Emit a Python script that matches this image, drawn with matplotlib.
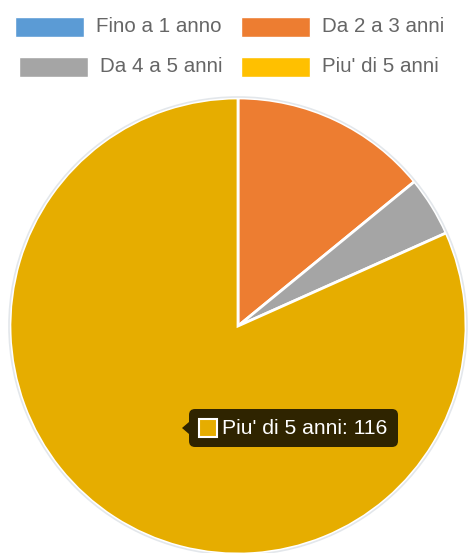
import matplotlib.pyplot as plt
from matplotlib.patches import Rectangle, FancyBboxPatch, Polygon, Circle

plt.rcParams["font.family"] = ["Liberation Sans", "DejaVu Sans"]

LABELS = ["Fino a 1 anno", "Da 2 a 3 anni", "Da 4 a 5 anni", "Piu' di 5 anni"]
VALUES = [0, 20, 6, 116]
COLORS = ["#5b9bd5", "#ed7d31", "#a5a5a5", "#ffc000"]
HOVER_INDEX = 3
HOVER_COLOR = "#e6ad00"

W, H = 472, 553

fig = plt.figure(figsize=(W / 100, H / 100), dpi=100)
ax = fig.add_axes([0, 0, 1, 1])

# pie, center/radius in pixels (y up)
cx, cy, r = 238, H - 326, 228
wedge_colors = [HOVER_COLOR if i == HOVER_INDEX else c for i, c in enumerate(COLORS)]
ax.pie(
    VALUES,
    colors=wedge_colors,
    startangle=90,
    counterclock=False,
    center=(cx, cy),
    radius=r,
    wedgeprops={"edgecolor": "white", "linewidth": 2},
    frame=True,
)
ax.set_xlim(0, W)
ax.set_ylim(0, H)
ax.set_aspect("equal")
ax.axis("off")
ax.add_patch(Circle((cx, cy), r + 1, fill=False, edgecolor="#e3e7eb", linewidth=1.2, zorder=3))

# legend, two columns
legend_pos = [(15, 27), (241, 27), (19, 67), (241, 67)]
for (x, y), label, color in zip(legend_pos, LABELS, COLORS):
    ax.add_patch(Rectangle((x, H - y - 10), 69, 20, facecolor=color, edgecolor="white",
                           linewidth=1, zorder=4))
    ax.text(x + 81, H - y, label, fontsize=14.8, color="#666666", va="center", ha="left", zorder=4)

# tooltip for hovered slice
tx, ty, tw, th = 189, H - 447, 209, 38
ax.add_patch(FancyBboxPatch((tx + 4, ty + 4), tw - 8, th - 8,
                            boxstyle="round,pad=4,rounding_size=6",
                            facecolor="#2f2400", edgecolor="none", zorder=5))
ax.add_patch(Polygon([(tx, ty + th / 2 + 6), (tx - 7, ty + th / 2), (tx, ty + th / 2 - 6)],
                     closed=True, facecolor="#2f2400", edgecolor="none", zorder=5))
ax.add_patch(Rectangle((tx + 10, ty + th / 2 - 9), 18, 18, facecolor=HOVER_COLOR,
                       edgecolor="white", linewidth=1.5, zorder=6))
ax.text(tx + 33, ty + th / 2, f"{LABELS[HOVER_INDEX]}: {VALUES[HOVER_INDEX]}",
        fontsize=15.2, color="white", va="center", ha="left", zorder=6)

fig.savefig("out.png", dpi=100)
